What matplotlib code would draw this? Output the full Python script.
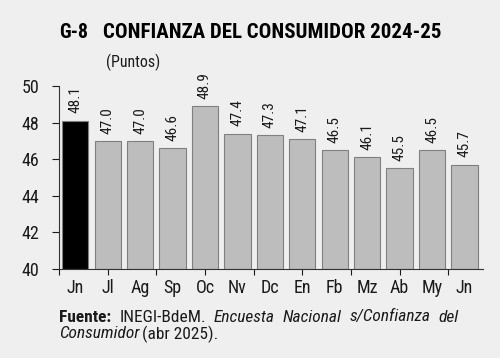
import matplotlib
matplotlib.use('Agg')
import matplotlib.pyplot as plt

months = ['Jn', 'Jl', 'Ag', 'Sp', 'Oc', 'Nv', 'Dc', 'En', 'Fb', 'Mz', 'Ab', 'My', 'Jn']
values = [48.1, 47.0, 47.0, 46.6, 48.9, 47.4, 47.3, 47.1, 46.5, 46.1, 45.5, 46.5, 45.7]
y_ticks = [40, 42, 44, 46, 48, 50]

bg = '#efefef'
ink = '#1a1a1a'
plt.rcParams['font.family'] = ['Roboto Condensed', 'Barlow Condensed', 'DejaVu Sans']

W, H = 500, 358
fig = plt.figure(figsize=(W / 100, H / 100), dpi=100, facecolor=bg)
ax = fig.add_axes([59 / W, 1 - 269 / H, 424 / W, 183 / H])
ax.set_facecolor(bg)

x = list(range(len(values)))
colors = ['black'] + ['#bdbdbd'] * (len(values) - 1)
ax.bar(x, [v - 40 for v in values], bottom=40, width=0.81, color=colors,
       edgecolor='#808080', linewidth=0.8)

for xi, v in zip(x, values):
    ax.text(xi, v + 0.4, f'{v:.1f}', rotation=90, ha='center', va='bottom',
            fontsize=11, color=ink)

ax.set_ylim(40, 50)
ax.set_xlim(-0.5, 12.57)
ax.set_yticks(y_ticks)
ax.set_xticks([-0.5 + 1.5 * i for i in range(9)])
ax.set_xticklabels([])
ax.tick_params(axis='y', direction='out', length=5, width=0.8, pad=9,
               labelsize=13, colors=ink)
ax.tick_params(axis='x', direction='out', length=4, width=0.8, color=ink)
for xi, m in zip(x, months):
    ax.text(xi, 39.45, m, ha='center', va='top', fontsize=13, color=ink)

for s in ['top', 'right']:
    ax.spines[s].set_visible(False)
for s in ['left', 'bottom']:
    ax.spines[s].set_color('#333333')
    ax.spines[s].set_linewidth(0.8)

fig.canvas.draw()
r = fig.canvas.get_renderer()


def fit(t, width):
    w = t.get_window_extent(r).width
    t.set_fontsize(t.get_fontsize() * width / w)


t = fig.text(59 / W, 1 - 33 / H, 'G-8', fontsize=15, fontweight='bold',
             va='center', color='black')
fit(t, 29)
t = fig.text(103 / W, 1 - 33 / H, 'CONFIANZA DEL CONSUMIDOR 2024-25',
             fontsize=15, fontweight='bold', va='center', color='black')
fit(t, 340)
t = fig.text(106 / W, 1 - 62 / H, '(Puntos)', fontsize=11, va='center',
             color=ink)
fit(t, 54)

# source note, first line justified
line1 = [('Fuente:', 'bold', 'normal'), ('INEGI-BdeM.', 'normal', 'normal'),
         ('Encuesta', 'normal', 'italic'), ('Nacional', 'normal', 'italic'),
         ('s/Confianza', 'normal', 'italic'), ('del', 'normal', 'italic')]
x0, x1 = 59, 459
y1, y2 = H - 317, H - 334
arts = [fig.text(0, y1 / H, w, fontsize=12.5, fontweight=fw, style=st,
                 va='center', color=ink) for w, fw, st in line1]
widths = [a.get_window_extent(r).width for a in arts]
if sum(widths) + 5 * 6 > x1 - x0:
    k = (x1 - x0 - 30) / sum(widths)
    for a in arts:
        a.set_fontsize(a.get_fontsize() * k)
    widths = [a.get_window_extent(r).width for a in arts]
gap = (x1 - x0 - sum(widths)) / (len(arts) - 1)
pos = x0
for a, w in zip(arts, widths):
    a.set_x(pos / W)
    pos += w + gap
fs = arts[1].get_fontsize()
t2 = fig.text(x0 / W, y2 / H, 'Consumidor', fontsize=fs, style='italic',
              va='center', color=ink)
w2 = t2.get_window_extent(r).width
fig.text((x0 + w2 + 2) / W, y2 / H, '(abr 2025).', fontsize=fs,
         va='center', color=ink)

fig.savefig('out.png', dpi=100, facecolor=bg)
